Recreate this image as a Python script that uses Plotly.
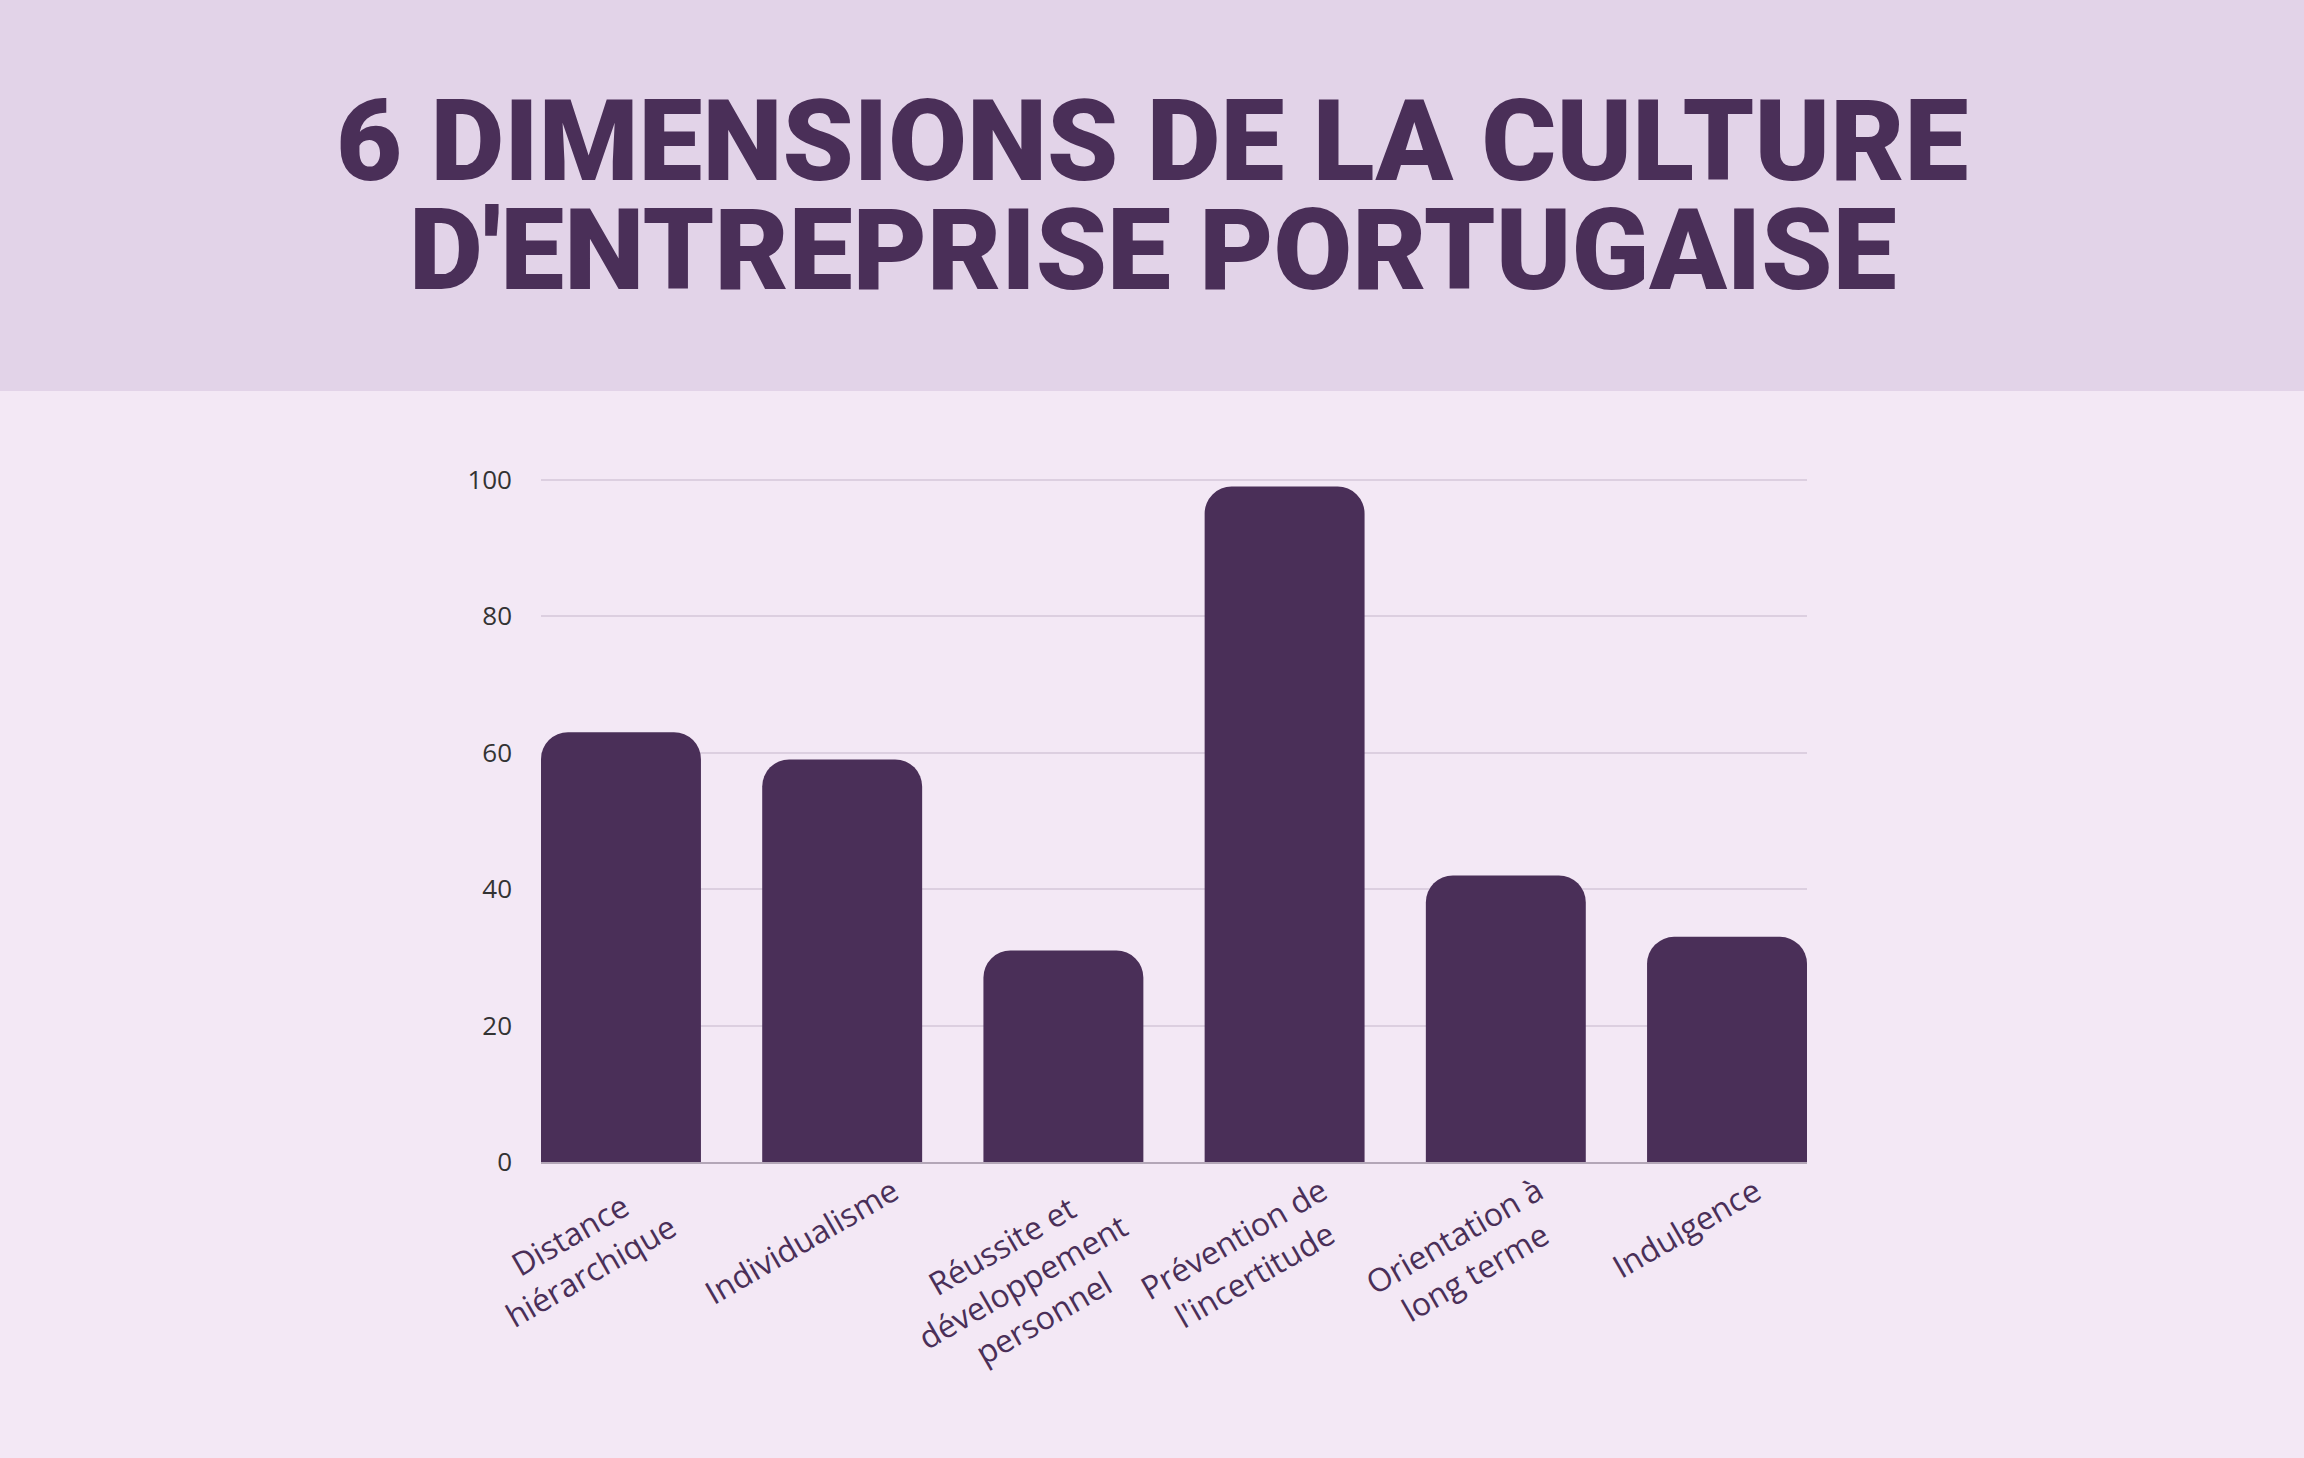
import plotly.graph_objects as go

categories = ["Distance hiérarchique", "Individualisme", "Réussite et développement personnel",
              "Prévention de l'incertitude", "Orientation à long terme", "Indulgence"]
tick_labels = ["Distance<br>hiérarchique", "Individualisme", "Réussite et<br>développement<br>personnel",
               "Prévention de<br>l'incertitude", "Orientation à<br>long terme", "Indulgence"]
values = [63, 59, 31, 99, 42, 33]
y_ticks = [0, 20, 40, 60, 80, 100]

title_lines = ["6 DIMENSIONS DE LA CULTURE", "D'ENTREPRISE PORTUGAISE"]

BAR = "#4a2f58"
BG = "#f3e8f5"
HEADER = "#e2d3e8"
bar_w = 0.723
y_max = 100.4

# plot area in pixels (for converting page positions into paper coords)
PLOT_LEFT, PLOT_RIGHT = 541, 1807
PLOT_TOP, PLOT_BOTTOM = 477, 1162
def py(pix):
    return (PLOT_BOTTOM - pix) / (PLOT_BOTTOM - PLOT_TOP)
def px(pix):
    return (pix - PLOT_LEFT) / (PLOT_RIGHT - PLOT_LEFT)

fig = go.Figure()
fig.add_trace(go.Bar(
    x=list(range(len(categories))), y=values,
    width=bar_w,
    marker=dict(color=BAR, cornerradius=27, line=dict(width=0)),
    hovertext=categories,
))

annotations = []
for i, lab in enumerate(tick_labels):
    annotations.append(dict(
        x=i, y=0, xref="x", yref="y", text=lab, showarrow=False,
        textangle=-30, align="center", xanchor="center", yanchor="top",
        xshift=-41, yshift=-3,
        font=dict(family="Open Sans", size=32, color=BAR),
    ))

for line, cy in zip(title_lines, [141, 250]):
    annotations.append(dict(
        x=px(1152), y=py(cy), xref="paper", yref="paper", text=line,
        showarrow=False, xanchor="center", yanchor="middle",
        font=dict(family="Roboto", size=114, color=BAR, weight=900),
    ))

fig.update_layout(
    width=2304, height=1458,
    paper_bgcolor=BG, plot_bgcolor=BG,
    margin=dict(l=PLOT_LEFT, r=2304 - PLOT_RIGHT, t=PLOT_TOP, b=1458 - PLOT_BOTTOM),
    showlegend=False,
    bargap=1 - bar_w,
    annotations=annotations,
    shapes=[dict(type="rect", xref="paper", yref="paper", x0=-1, x1=2,
                 y0=py(391), y1=py(-20), fillcolor=HEADER, line=dict(width=0), layer="below")],
    xaxis=dict(range=[-bar_w / 2, len(categories) - 1 + bar_w / 2], showticklabels=False,
               showgrid=False, zeroline=False, showline=True, linecolor="#b3a6b7", linewidth=2,
               ticks=""),
    yaxis=dict(range=[0, y_max], tickvals=y_ticks, showgrid=True, gridcolor="#dccfe0", gridwidth=2,
               zeroline=False, showline=False, ticks="", ticklen=0,
               tickfont=dict(family="Open Sans", size=26, color="#333333"), ticklabelstandoff=28),
)

fig.write_html("out.html")
